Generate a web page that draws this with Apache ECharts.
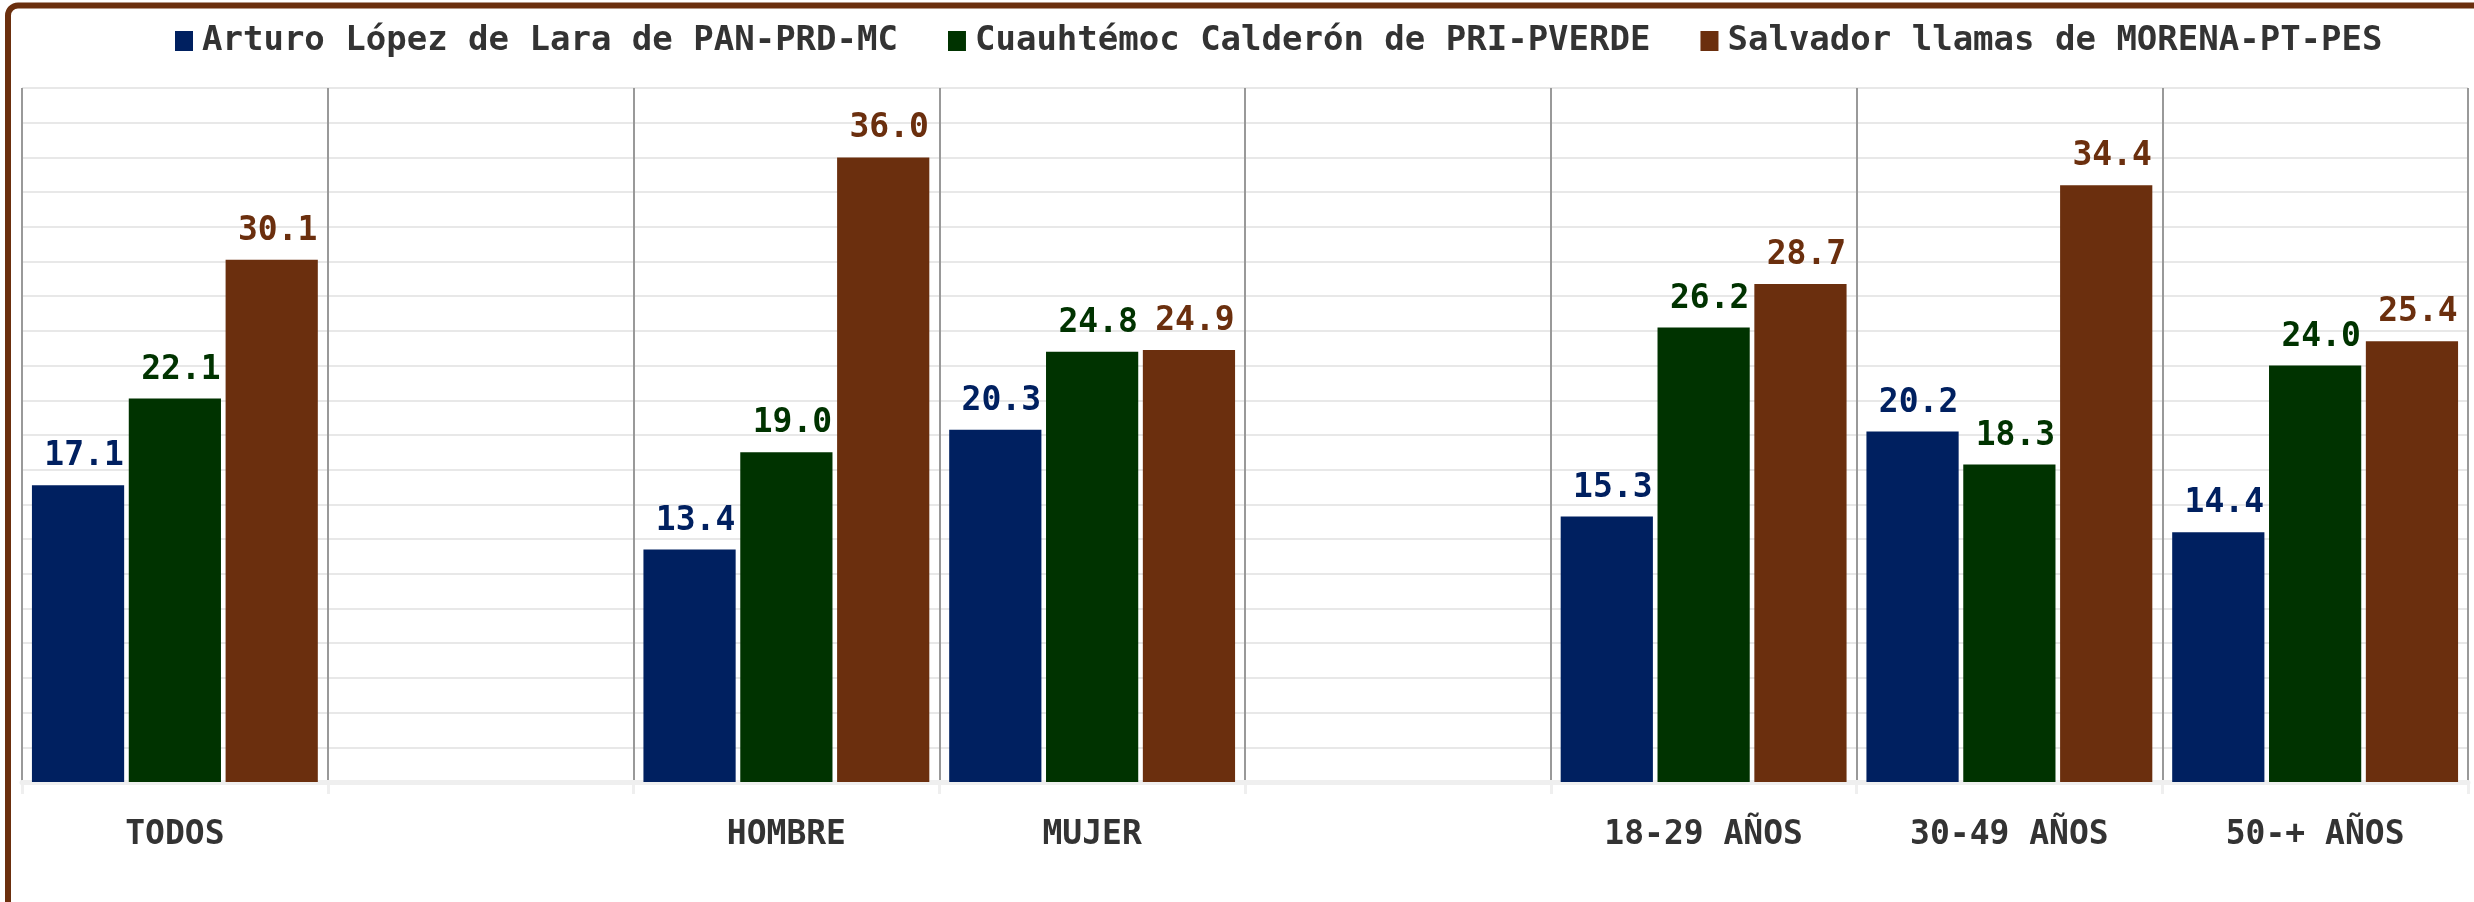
<!DOCTYPE html>
<html>
<head>
<meta charset="utf-8">
<script src="https://cdn.jsdelivr.net/npm/echarts@6/dist/echarts.min.js"></script>
<style>
html,body{margin:0;padding:0;background:#fff;}
#chart{width:2474px;height:902px;}
</style>
</head>
<body>
<div id="chart"></div>
<script>
const categories = ['TODOS', '', 'HOMBRE', 'MUJER', '', '18-29 AÑOS', '30-49 AÑOS', '50-+ AÑOS'];
const seriesNames = ['Arturo López de Lara de PAN-PRD-MC', 'Cuauhtémoc Calderón de PRI-PVERDE', 'Salvador llamas de MORENA-PT-PES'];
const panValues = [17.1, '-', 13.4, 20.3, '-', 15.3, 20.2, 14.4];
const priValues = [22.1, '-', 19.0, 24.8, '-', 26.2, 18.3, 24.0];
const morenaValues = [30.1, '-', 36.0, 24.9, '-', 28.7, 34.4, 25.4];
const colors = ['#002060', '#003300', '#6B2F0E'];

const FONT = '"DejaVu Sans Mono", monospace';
const allValues = [panValues, priValues, morenaValues];

const chart = echarts.init(document.getElementById('chart'));
chart.setOption({
  animation: false,
  color: colors,
  textStyle: { fontFamily: FONT },
  graphic: [{
    type: 'rect',
    shape: { x: 8, y: 5.5, width: 2600, height: 1200, r: 10 },
    style: { fill: 'none', stroke: '#6B2F0E', lineWidth: 6 },
    z: 100
  }],
  legend: {
    top: 19,
    left: 170,
    itemWidth: 18,
    itemHeight: 20,
    itemGap: 50,
    icon: 'rect',
    textStyle: { fontFamily: FONT, fontSize: 34, fontWeight: 'bold', color: '#333', padding: [0, 0, 0, 4] },
    data: seriesNames
  },
  grid: { left: 22, right: 6, top: 88, bottom: 120, containLabel: false },
  xAxis: {
    type: 'category',
    data: categories,
    axisLine: { show: true, lineStyle: { color: '#efefef', width: 5 } },
    axisTick: { show: true, length: 12, lineStyle: { color: '#efefef', width: 3 } },
    axisLabel: { margin: 37, fontFamily: FONT, fontSize: 33, fontWeight: 'bold', color: '#333' },
    splitLine: { show: true, lineStyle: { color: '#999', width: 2 } }
  },
  yAxis: {
    type: 'value',
    min: 0,
    max: 40,
    interval: 2,
    axisLabel: { show: false },
    axisLine: { show: false },
    axisTick: { show: false },
    splitLine: { show: true, lineStyle: { color: '#e8e8e8', width: 2 } }
  },
  series: seriesNames.map((name, i) => ({
    name: name,
    type: 'bar',
    data: allValues[i],
    barGap: '5%',
    barCategoryGap: '6.5%',
    itemStyle: { color: colors[i] },
    label: {
      show: true,
      position: 'top',
      distance: 12,
      offset: [6, 0],
      fontFamily: FONT,
      fontSize: 33,
      fontWeight: 'bold',
      color: colors[i],
      formatter: p => Number(p.value).toFixed(1)
    }
  }))
});
</script>
</body>
</html>
